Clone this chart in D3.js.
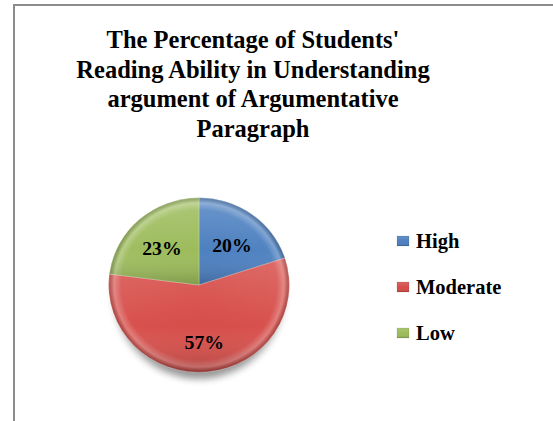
<!DOCTYPE html>
<html>
<head>
<meta charset="utf-8">
<script src="https://cdn.jsdelivr.net/npm/d3@7"></script>
<style>
  body { margin: 0; background: #fff; }
  svg { display: block; }
</style>
</head>
<body>
<div id="chart-area"></div>
<script>
var categories = ['High', 'Moderate', 'Low'];
var values = [20, 57, 23];
var colors = ['#4a7ebf', '#d64a46', '#9bbb59'];
var titleLines = ["The Percentage of Students'", 'Reading Ability in Understanding',
    'argument of Argumentative', 'Paragraph'];

var width = 553;
var height = 421;
var serif = '"Liberation Serif", "Times New Roman", serif';

var svg = d3.select('#chart-area')
    .append('svg')
    .attr('width', width)
    .attr('height', height);

var defs = svg.append('defs');

defs.append('filter')
    .attr('id', 'shadow')
    .attr('x', '-20%').attr('y', '-20%')
    .attr('width', '140%').attr('height', '140%')
    .append('feGaussianBlur')
    .attr('stdDeviation', 4);

// soft bevel: light rim near the edge, darker at the very edge
var bevel = defs.append('radialGradient')
    .attr('id', 'bevel')
    .attr('gradientUnits', 'userSpaceOnUse')
    .attr('cx', 0).attr('cy', 0).attr('r', 89);
bevel.append('stop').attr('offset', '0%').attr('stop-color', '#fff').attr('stop-opacity', 0);
bevel.append('stop').attr('offset', '86%').attr('stop-color', '#fff').attr('stop-opacity', 0.04);
bevel.append('stop').attr('offset', '94%').attr('stop-color', '#fff').attr('stop-opacity', 0.28);
bevel.append('stop').attr('offset', '100%').attr('stop-color', '#000').attr('stop-opacity', 0.22);

var shade = defs.append('linearGradient')
    .attr('id', 'shade')
    .attr('x1', 0).attr('y1', 0).attr('x2', 0).attr('y2', 1);
shade.append('stop').attr('offset', '0%').attr('stop-color', '#fff').attr('stop-opacity', 0.15);
shade.append('stop').attr('offset', '60%').attr('stop-color', '#fff').attr('stop-opacity', 0);
shade.append('stop').attr('offset', '100%').attr('stop-color', '#000').attr('stop-opacity', 0.18);

// chart frame (only left and top edges show)
svg.append('path')
    .attr('d', 'M14,' + height + 'V5H' + width)
    .attr('fill', 'none')
    .attr('stroke', '#8c8c8c')
    .attr('stroke-width', 2);

// title
var title = svg.append('text')
    .attr('x', 253)
    .attr('y', 48)
    .attr('text-anchor', 'middle')
    .attr('font-family', serif)
    .attr('font-weight', 'bold')
    .attr('font-size', 24.5)
    .attr('fill', '#000');

title.selectAll('tspan')
    .data(titleLines)
    .enter()
    .append('tspan')
    .attr('x', 253)
    .attr('dy', function (d, i) {
        return i === 0 ? 0 : 29.5;
    })
    .text(function (d) {
        return d;
    });

// pie
var radius = 89;
var g = svg.append('g')
    .attr('transform', 'translate(199,285) scale(1.015,0.98)');

g.append('ellipse')
    .attr('cx', 0)
    .attr('cy', 9)
    .attr('rx', radius - 6)
    .attr('ry', radius - 2)
    .attr('fill', '#000')
    .attr('opacity', 0.4)
    .attr('filter', 'url(#shadow)');

var pie = d3.pie()
    .sort(null)
    .value(function (d) {
        return d;
    });

var arc = d3.arc()
    .innerRadius(0)
    .outerRadius(radius);

var labelArc = d3.arc()
    .innerRadius(radius * 0.62)
    .outerRadius(radius * 0.62);

var slices = g.selectAll('.slice')
    .data(pie(values))
    .enter()
    .append('g')
    .attr('class', 'slice');

slices.append('path')
    .attr('d', arc)
    .attr('fill', function (d, i) {
        return colors[i];
    });

slices.append('path')
    .attr('d', arc)
    .attr('fill', 'url(#bevel)');

slices.append('path')
    .attr('d', arc)
    .attr('fill', 'url(#shade)')
    .attr('stroke', 'rgba(255,255,255,0.3)')
    .attr('stroke-width', 0.8);

var pct = d3.format('.0%');
g.selectAll('.label')
    .data(pie(values))
    .enter()
    .append('text')
    .attr('class', 'label')
    .attr('transform', function (d) {
        var c = labelArc.centroid(d);
        return 'translate(' + c[0] + ',' + (c[1] + 4) + ')';
    })
    .attr('dy', '0.35em')
    .attr('text-anchor', 'middle')
    .attr('font-family', serif)
    .attr('font-weight', 'bold')
    .attr('font-size', 19.5)
    .attr('fill', '#000')
    .text(function (d) {
        return pct(d.value / d3.sum(values));
    });

// legend
var legend = svg.append('g')
    .attr('transform', 'translate(397,241)');

var y = d3.scaleBand()
    .domain(categories)
    .range([0, 138]);

var items = legend.selectAll('.item')
    .data(categories)
    .enter()
    .append('g')
    .attr('class', 'item')
    .attr('transform', function (d) {
        return 'translate(0,' + (y(d) - 5) + ')';
    });

items.append('rect')
    .attr('width', 12)
    .attr('height', 10)
    .attr('fill', function (d, i) {
        return colors[i];
    });

items.append('rect')
    .attr('width', 12)
    .attr('height', 10)
    .attr('fill', 'url(#shade)')
    .attr('stroke', 'rgba(0,0,0,0.15)')
    .attr('stroke-width', 0.6);

items.append('text')
    .attr('x', 19)
    .attr('y', 5)
    .attr('dy', '0.33em')
    .attr('font-family', serif)
    .attr('font-weight', 'bold')
    .attr('font-size', 20.5)
    .attr('fill', '#000')
    .text(function (d) {
        return d;
    });
</script>
</body>
</html>
